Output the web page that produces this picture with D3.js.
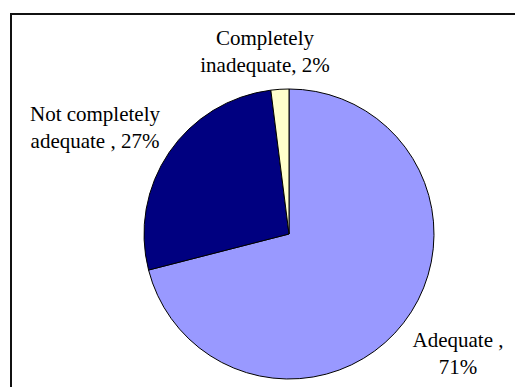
<!DOCTYPE html>
<html>
<head>
<meta charset="utf-8">
<script src="https://cdn.jsdelivr.net/npm/d3@7"></script>
<style>
  html, body { margin: 0; padding: 0; background: #fff; }
  svg { display: block; }
  .lbl { font-family: "Liberation Serif", "Times New Roman", Times, "DejaVu Serif", serif; font-size: 21px; }
</style>
</head>
<body>
<svg id="chart" width="515" height="387"></svg>
<script>
// Share of responses per rating, in percent
const categories = ["Adequate", "Not completely adequate", "Completely inadequate"];
const values = [71, 27, 2];
const colors = ["#9999FF", "#000080", "#FFFFCC"];
// Label lines for each slice
const labelLines = [
  ["Adequate ,", "71%"],
  ["Not completely", "adequate , 27%"],
  ["Completely", "inadequate, 2%"]
];
// Label anchor points (centre x, first baseline y)
const labelPos = [[458, 347], [95, 121], [265, 45]];

const svg = d3.select("#chart");

// Chart area frame
svg.append("rect")
  .attr("x", 11).attr("y", 14)
  .attr("width", 530).attr("height", 400)
  .attr("fill", "#fff")
  .attr("stroke", "#111").attr("stroke-width", 2);

const cx = 289, cy = 234, r = 145;

const pie = d3.pie().sort(null).value(d => d)
  .startAngle(0).endAngle(2 * Math.PI);
const arc = d3.arc().innerRadius(0).outerRadius(r);

const g = svg.append("g").attr("transform", `translate(${cx},${cy})`);
g.selectAll("path")
  .data(pie(values))
  .join("path")
  .attr("d", arc)
  .attr("fill", (d, i) => colors[i])
  .attr("stroke", "#000")
  .attr("stroke-width", 1);

const labels = svg.append("g")
  .attr("fill", "#000")
  .attr("text-anchor", "middle");

categories.forEach((c, i) => {
  const t = labels.append("text")
    .attr("class", "lbl")
    .attr("x", labelPos[i][0]).attr("y", labelPos[i][1]);
  labelLines[i].forEach((line, j) => {
    t.append("tspan")
      .attr("x", labelPos[i][0])
      .attr("dy", j === 0 ? 0 : 26.5)
      .text(line);
  });
});
</script>
</body>
</html>
